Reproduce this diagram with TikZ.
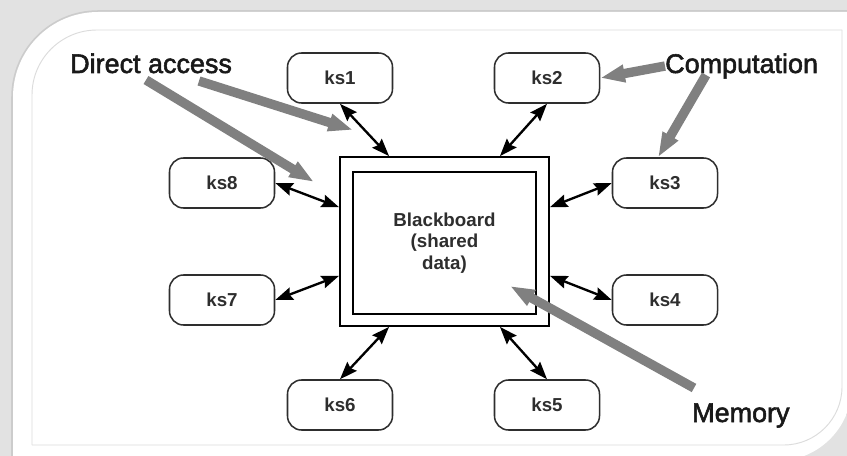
\documentclass[tikz,border=0pt]{standalone}
\usepackage{fontspec}
\setmainfont{Liberation Sans}
\usetikzlibrary{arrows.meta}

\definecolor{frameback}{HTML}{E2E2E2}
\definecolor{frameline}{HTML}{DCDCDC}
\definecolor{notegray}{HTML}{808080}
\definecolor{boxline}{HTML}{2E2E2E}

\tikzset{
  ks/.style={draw=boxline, line width=1.3pt, rounded corners=12pt, minimum width=3.15cm,
    minimum height=1.5cm, text=boxline, font=\fontsize{16}{18}\selectfont\bfseries},
  bbox/.style={draw=black, line width=1.5pt},
  link/.style={>={Stealth[length=15pt,width=11pt,inset=2pt]}, <->, line width=2pt},
  note/.style={anchor=base west, inner sep=0pt, text=black!90,
    font=\fontsize{23}{26}\selectfont\addfontfeature{FakeBold=2}},
  pointer/.style={draw=notegray, line width=8pt, -{Triangle[length=21pt,width=14pt]}},
}

\begin{document}
\begin{tikzpicture}[x=0.03cm, y=-0.03cm]
\useasboundingbox (0,0) rectangle (847,456);
\fill[frameback] (0,0) rectangle (847,456);
\begin{scope}
\clip[rounded corners=2.25cm] (-300,-300) rectangle (852,461);
\draw[gray!40, line width=3pt, rounded corners=2.55cm] (13,12) rectangle (1100,700);
\fill[white, rounded corners=2.55cm] (13,12) rectangle (1100,700);
\end{scope}
\draw[frameline, line width=0.8pt, rounded corners=1.95cm] (32,445) -- (32,30) -- (842,30);
\draw[frameline, line width=0.8pt, rounded corners=1.75cm] (842,30) -- (842,445) -- (32,445);

\node[bbox, minimum width=6.27cm, minimum height=5.07cm] (bb) at (444.5,241.5) {};
\node[bbox, minimum width=5.49cm, minimum height=4.26cm, align=center, text=boxline,
  font=\fontsize{16}{18.5}\selectfont\bfseries] (bbin) at (444.5,243) {Blackboard\\(shared\\data)};

\node[ks] (ks1) at (340,78) {ks1};
\node[ks] (ks2) at (547,78) {ks2};
\node[ks] (ks3) at (665,183) {ks3};
\node[ks] (ks4) at (665,300) {ks4};
\node[ks] (ks5) at (547,405) {ks5};
\node[ks] (ks6) at (340,405) {ks6};
\node[ks] (ks7) at (222,300) {ks7};
\node[ks] (ks8) at (222,183) {ks8};

\draw[link] (ks1.south) -- (bb.123);
\draw[link] (ks2.south) -- (bb.57);
\draw[link] (ks3.west) -- (bb.18);
\draw[link] (ks4.west) -- (bb.-18);
\draw[link] (ks5.north) -- (bb.-57);
\draw[link] (ks6.north) -- (bb.-123);
\draw[link] (ks7.east) -- (bb.198);
\draw[link] (ks8.east) -- (bb.162);

\node[note] (da) at (70,73) {Direct access};
\node[note] (cp) at (665,73) {Computation};
\node[note] (mem) at (692,422) {Memory};

\coordinate (da-a) at (146,80);
\coordinate (da-b) at (199,81);
\coordinate (da-c) at (314,182);
\coordinate (da-d) at (353,130);
\coordinate (cp-a) at (706,75);
\coordinate (mem-a) at (694,388);
\coordinate (mem-b) at (510,286);

\draw[pointer] (da-a) -- (da-c);
\draw[pointer] (da-b) -- (da-d);
\draw[pointer] (cp.west) -- (ks2.east);
\draw[pointer] (cp-a) -- (ks3.105);
\draw[pointer] (mem-a) -- (mem-b);
\end{tikzpicture}
\end{document}
